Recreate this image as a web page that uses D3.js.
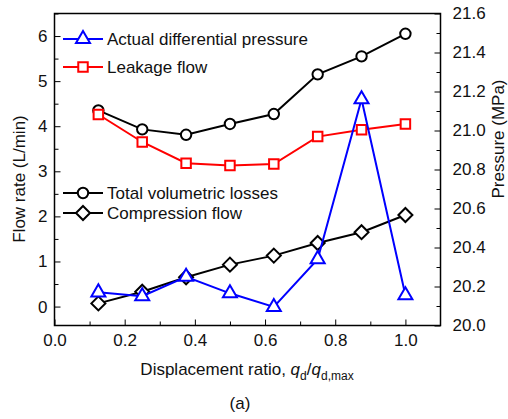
<!DOCTYPE html>
<html>
<head>
<meta charset="utf-8">
<script src="https://cdn.jsdelivr.net/npm/d3@7"></script>
<style>
  html, body { margin: 0; padding: 0; background: #fff; }
  svg text { font-family: "Liberation Sans", Arial, sans-serif; }
</style>
</head>
<body>
<svg id="chart" width="508" height="419"></svg>
<script>
// Displacement ratio q_d / q_d,max
const ratios = [0.125, 0.25, 0.375, 0.5, 0.625, 0.75, 0.875, 1.0];
// Flow rates (L/min)
const totalLosses = [4.35, 3.93, 3.81, 4.05, 4.27, 5.15, 5.55, 6.05];
const leakageFlow = [4.26, 3.65, 3.18, 3.13, 3.16, 3.77, 3.92, 4.05];
const compressionFlow = [0.07, 0.33, 0.65, 0.93, 1.13, 1.41, 1.65, 2.03];
// Pressure (MPa)
const actualPressure = [20.17, 20.15, 20.25, 20.165, 20.095, 20.34, 21.16, 20.155];

const xTicks = [0.0, 0.2, 0.4, 0.6, 0.8, 1.0];
const yLeftTicks = [0, 1, 2, 3, 4, 5, 6];
const yRightTicks = [20.0, 20.2, 20.4, 20.6, 20.8, 21.0, 21.2, 21.4, 21.6];

const svg = d3.select("#chart");
const L = 54.5, R = 440.5, T = 13.5, B = 325.5;

const x = d3.scaleLinear().domain([0, 1.1]).range([L, R]);
const yL = d3.scaleLinear().domain([-0.42, 6.5]).range([B, T]);
const yR = d3.scaleLinear().domain([20.0, 21.6]).range([B, T]);

const fontSize = 17;
const ink = "#111";

// frame
svg.append("rect").attr("x", L).attr("y", T).attr("width", R - L).attr("height", B - T)
  .attr("fill", "none").attr("stroke", "#000").attr("stroke-width", 1.5);

// draws inward ticks (minor + major) and labels for one axis
function axis(gen, pos, scale, minors, majors, fmt, pad) {
  const mi = svg.append("g").attr("transform", pos)
    .call(gen(scale).tickValues(minors).tickSize(-4).tickFormat(""));
  mi.select(".domain").remove();
  mi.selectAll("line").attr("stroke", "#000");
  const ma = svg.append("g").attr("transform", pos)
    .call(gen(scale).tickValues(majors).tickSize(-6).tickPadding(pad).tickFormat(fmt));
  ma.select(".domain").remove();
  ma.selectAll("line").attr("stroke", "#000");
  ma.selectAll("text").attr("font-size", fontSize)
    .attr("font-family", "Liberation Sans, Arial, sans-serif").attr("fill", ink);
  return ma;
}

axis(d3.axisBottom, `translate(0,${B})`, x, d3.range(0.1, 1.1, 0.2), xTicks, d3.format(".1f"), 8);
axis(d3.axisLeft, `translate(${L},0)`, yL, d3.range(0.5, 6.51, 1), yLeftTicks, d3.format("d"), 7);
axis(d3.axisRight, `translate(${R},0)`, yR, d3.range(20.1, 21.6, 0.2), yRightTicks, d3.format(".1f"), 12);

// axis titles
svg.append("text").attr("transform", `translate(25,179) rotate(-90)`)
  .attr("text-anchor", "middle").attr("font-size", fontSize).attr("fill", ink)
  .text("Flow rate (L/min)");
svg.append("text").attr("transform", `translate(504,139) rotate(-90)`)
  .attr("text-anchor", "middle").attr("font-size", fontSize).attr("fill", ink)
  .text("Pressure (MPa)");

const xt = svg.append("text").attr("x", 247).attr("y", 375).attr("text-anchor", "middle")
  .attr("font-size", fontSize).attr("fill", ink);
xt.append("tspan").text("Displacement ratio, ");
xt.append("tspan").attr("font-style", "italic").text("q");
xt.append("tspan").attr("font-size", 12).attr("dy", 5).text("d");
xt.append("tspan").attr("dy", -5).text("/");
xt.append("tspan").attr("font-style", "italic").text("q");
xt.append("tspan").attr("font-size", 12).attr("dy", 5).text("d,max");

svg.append("text").attr("x", 240).attr("y", 409).attr("text-anchor", "middle")
  .attr("font-size", fontSize).attr("fill", ink).text("(a)");

// marker shapes
const sym = {
  circle: d3.symbol(d3.symbolCircle, 85)(),
  square: d3.symbol(d3.symbolSquare, 90)(),
  triangle: d3.symbol(d3.symbolTriangle, 85)(),
  diamond: "M0,-7L7,0L0,7L-7,0Z"
};

function drawSeries(values, yScale, color, shape) {
  const pts = ratios.map((r, i) => [x(r), yScale(values[i])]);
  svg.append("path").attr("d", d3.line()(pts)).attr("fill", "none")
    .attr("stroke", color).attr("stroke-width", 2);
  svg.append("g").selectAll("path").data(pts).join("path")
    .attr("transform", d => `translate(${d[0]},${d[1]})`)
    .attr("d", sym[shape]).attr("fill", "#fff").attr("stroke", color).attr("stroke-width", 2);
}

drawSeries(totalLosses, yL, "#000", "circle");
drawSeries(compressionFlow, yL, "#000", "diamond");
drawSeries(leakageFlow, yL, "#ff0000", "square");
drawSeries(actualPressure, yR, "#0000ff", "triangle");

// legends
function legendItem(lx, ly, color, shape, label) {
  svg.append("line").attr("x1", lx).attr("x2", lx + 40).attr("y1", ly).attr("y2", ly)
    .attr("stroke", color).attr("stroke-width", 2);
  svg.append("path").attr("transform", `translate(${lx + 20},${ly})`).attr("d", sym[shape])
    .attr("fill", "#fff").attr("stroke", color).attr("stroke-width", 2);
  svg.append("text").attr("x", lx + 44).attr("y", ly + 6).attr("font-size", fontSize)
    .attr("fill", ink).text(label);
}
legendItem(63, 39, "#0000ff", "triangle", "Actual differential pressure");
legendItem(63, 67, "#ff0000", "square", "Leakage flow");
legendItem(63, 193, "#000", "circle", "Total volumetric losses");
legendItem(63, 213, "#000", "diamond", "Compression flow");
</script>
</body>
</html>
